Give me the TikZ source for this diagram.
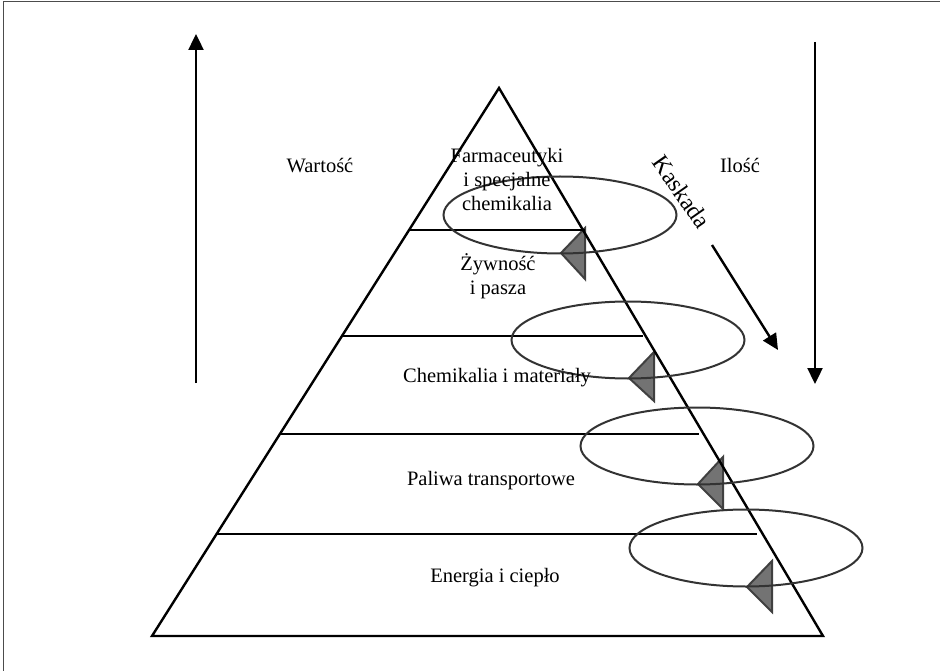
\documentclass[tikz,border=0pt]{standalone}
\usepackage{fontspec}
\setmainfont{Liberation Serif}
\usetikzlibrary{arrows.meta,shapes.geometric}
\begin{document}
\begin{tikzpicture}[x=1pt,y=-1pt,
  lbl/.style={font=\fontsize{20.5}{24}\selectfont, align=center, inner sep=0pt},
  pyr/.style={line width=2.4pt, draw=black},
  ring/.style={ellipse, draw=black!80, line width=2pt, inner sep=0pt, minimum width=233pt, minimum height=77pt},
  tri/.style={fill=black!55, draw=black!75, line width=2pt, line join=miter},
  arr/.style={line width=2.4pt, -{Triangle[length=16pt,width=15pt]}}]
\useasboundingbox (0,0) rectangle (940,671);
\draw[line width=1pt, black!70] (3,671) -- (3,2) -- (940,2);

% triangles (below lines)
\draw[tri] (585,228) -- (585,279) -- (561,253) -- cycle;
\draw[tri] (654,352) -- (654,401) -- (629,378) -- cycle;
\draw[tri] (723,457) -- (723,509) -- (698,484) -- cycle;
\draw[tri] (772,561) -- (772,612) -- (747,587) -- cycle;

% pyramid
\coordinate (apex) at (499,88);
\coordinate (bl) at (152,636);
\coordinate (br) at (823,636);
\draw[pyr, line join=miter] (apex) -- (bl) -- (br) -- cycle;
\coordinate (l1a) at (409,230); \coordinate (l1b) at (585,230);
\coordinate (l2a) at (342,336); \coordinate (l2b) at (643,336);
\coordinate (l3a) at (279,434); \coordinate (l3b) at (699,434);
\coordinate (l4a) at (217,534); \coordinate (l4b) at (757,534);
\draw[pyr] (l1a) -- (l1b);
\draw[pyr] (l2a) -- (l2b);
\draw[pyr] (l3a) -- (l3b);
\draw[pyr] (l4a) -- (l4b);

% ellipses
\node[ring] (e1) at (560,215) {};
\node[ring] (e2) at (628,340) {};
\node[ring] (e3) at (697,446) {};
\node[ring] (e4) at (746,548) {};

% labels
\node[lbl] (farm) at (507,179) {Farmaceutyki\\i specjalne\\chemikalia};
\node[lbl] (zyw) at (498,276) {Żywność\\i pasza};
\node[lbl] (chem) at (497,378) {Chemikalia i materiały};
\node[lbl] (pal) at (491,481) {Paliwa transportowe};
\node[lbl] (ene) at (495,578) {Energia i ciepło};
\node[lbl] (war) at (320,166) {Wartość};
\node[lbl] (ilo) at (740,165) {Ilość};
\node[lbl, font=\fontsize{24}{28}\selectfont, rotate=-55] (kas) at (682,192) {Kaskada};

% arrows
\coordinate (wb) at (196,383); \coordinate (wt) at (196,34);
\coordinate (it) at (815,42); \coordinate (ib) at (815,384);
\coordinate (ks) at (712,245); \coordinate (ke) at (778,350);
\draw[arr] (wb) -- (wt);
\draw[arr] (it) -- (ib);
\draw[arr] (ks) -- (ke);
\end{tikzpicture}
\end{document}
